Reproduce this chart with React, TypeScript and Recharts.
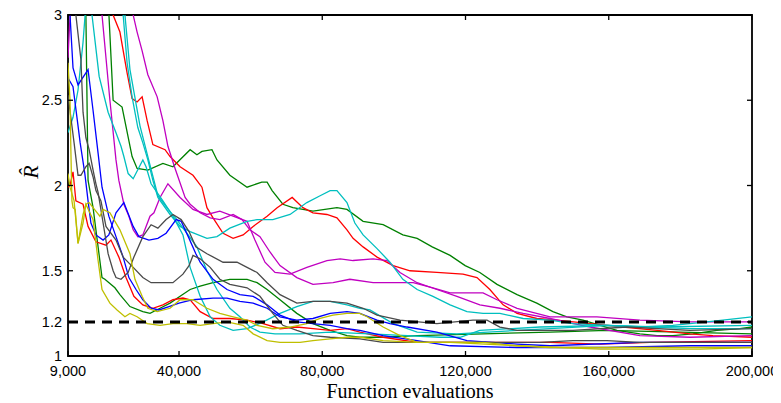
import { LineChart, Line, XAxis, YAxis, ReferenceLine, ReferenceArea } from 'recharts'

type Pt = [number, number]

const xTicks = [9000, 40000, 80000, 120000, 160000, 200000]
const yTicks = [1, 1.2, 1.5, 2, 2.5, 3]
const xDomain: [number, number] = [9000, 200000]
const yDomain: [number, number] = [1, 3]
const threshold = 1.2

// one trace per chain, [evaluations, R-hat]
const green1: Pt[] = [
  [9000, 3.9], [15000, 3.6], [20200, 3.1], [21600, 2.5], [24100, 2.46], [26900, 2.17], [28300, 2.1],
  [31300, 2.09], [35500, 2.13], [38300, 2.11], [43100, 2.21], [45000, 2.18], [46400, 2.2], [49200, 2.21],
  [50600, 2.15], [54200, 2.06], [59000, 1.99], [63100, 2.02], [64600, 2.02], [66000, 1.97], [69000, 1.89],
  [71800, 1.87], [77400, 1.85], [84100, 1.87], [86900, 1.86], [91400, 1.79], [97000, 1.77], [102500, 1.71],
  [106500, 1.69], [110700, 1.64], [115700, 1.59], [119900, 1.53], [124000, 1.49], [128800, 1.42],
  [134400, 1.36], [139900, 1.31], [144400, 1.26], [148300, 1.23], [152800, 1.21], [157600, 1.18],
  [162300, 1.15], [168700, 1.13], [173500, 1.12], [177900, 1.12], [183500, 1.13], [190200, 1.15],
  [196600, 1.16], [200000, 1.17],
]

const green2: Pt[] = [
  [9000, 4.0], [13200, 3.3], [14000, 3.0], [14600, 2.03], [16000, 1.87], [18500, 1.46], [19300, 1.45],
  [22100, 1.4], [23500, 1.36], [26300, 1.29], [29900, 1.26], [31900, 1.25], [34700, 1.28], [37500, 1.31],
  [40300, 1.35], [43100, 1.39], [45900, 1.41], [49500, 1.43], [54200, 1.45], [59000, 1.45], [61800, 1.43],
  [64600, 1.39], [68200, 1.33], [72900, 1.25], [77400, 1.19], [82200, 1.15], [86900, 1.12], [90500, 1.11],
  [97000, 1.11], [106500, 1.12], [124900, 1.13], [143600, 1.14], [159500, 1.15], [179900, 1.14],
  [200000, 1.13],
]

const red1: Pt[] = [
  [9000, 4.5], [20000, 3.6], [21600, 3.0], [23500, 2.9], [25500, 2.66], [26900, 2.51], [28300, 2.49],
  [29700, 2.52], [31100, 2.38], [32700, 2.24], [36100, 2.21], [37500, 2.17], [40300, 2.11], [43900, 2.06],
  [46400, 1.99], [47800, 1.87], [49500, 1.81], [52300, 1.72], [55100, 1.69], [57900, 1.71], [60700, 1.76],
  [64600, 1.82], [67400, 1.87], [71600, 1.93], [74600, 1.87], [77400, 1.84], [81300, 1.83], [84100, 1.81],
  [86900, 1.74], [88600, 1.69], [91400, 1.64], [95300, 1.58], [99800, 1.53], [104500, 1.5], [112000, 1.49],
  [119300, 1.48], [123200, 1.46], [126800, 1.39], [130500, 1.3], [134400, 1.25], [139900, 1.22],
  [145500, 1.21], [154800, 1.19], [164000, 1.17], [173500, 1.15], [182700, 1.13], [189100, 1.12],
  [200000, 1.11],
]

const red2: Pt[] = [
  [9000, 1.99], [9560, 2.0], [10400, 2.08], [11200, 1.91], [13200, 1.89], [14600, 1.76], [16800, 1.67],
  [19600, 1.65], [21000, 1.68], [23200, 1.58], [25200, 1.46], [27400, 1.35], [29900, 1.3], [32700, 1.28],
  [35500, 1.3], [38300, 1.33], [41100, 1.34], [43100, 1.33], [45900, 1.26], [49500, 1.22], [54200, 1.22],
  [59000, 1.21], [63500, 1.19], [68200, 1.16], [72900, 1.17], [77400, 1.16], [82200, 1.15], [86900, 1.16],
  [90500, 1.14], [97000, 1.11], [106500, 1.08], [115700, 1.08], [134400, 1.08], [143600, 1.08],
  [157600, 1.07], [171500, 1.08], [200000, 1.09],
]

const magenta1: Pt[] = [
  [9000, 4.8], [24000, 3.5], [27200, 3.0], [28300, 2.9], [29700, 2.79], [31300, 2.65], [33900, 2.52],
  [35500, 2.38], [36900, 2.23], [38900, 2.1], [41700, 1.93], [43100, 1.89], [45900, 1.84], [48700, 1.81],
  [51400, 1.8], [55100, 1.83], [57600, 1.8], [59800, 1.74], [62600, 1.7], [65400, 1.61], [68200, 1.53],
  [72900, 1.46], [77400, 1.42], [83000, 1.43], [87700, 1.45], [94200, 1.43], [105400, 1.43], [110900, 1.4],
  [115700, 1.37], [124900, 1.37], [128800, 1.33], [134400, 1.28], [143600, 1.23], [156700, 1.23],
  [168700, 1.21], [182700, 1.2], [200000, 1.2],
]

const magenta2: Pt[] = [
  [9000, 2.75], [9560, 2.99], [12000, 3.6], [16000, 3.5], [18500, 3.0], [20700, 2.5], [22400, 2.15],
  [23200, 2.03], [24600, 1.89], [26000, 1.82], [27200, 1.74], [28500, 1.7], [29900, 1.71], [31900, 1.82],
  [33000, 1.84], [34700, 1.93], [36900, 2.01], [40300, 1.93], [43900, 1.86], [47800, 1.83], [51400, 1.85],
  [55100, 1.82], [59000, 1.79], [61200, 1.68], [64000, 1.55], [66800, 1.49], [71000, 1.48], [75700, 1.52],
  [81300, 1.56], [85000, 1.57], [88600, 1.56], [94200, 1.57], [98100, 1.56], [101700, 1.49], [106500, 1.43],
  [112000, 1.39], [117600, 1.35], [124000, 1.3], [129600, 1.28], [136100, 1.25], [143600, 1.22],
  [154800, 1.17], [168700, 1.12], [182700, 1.11], [200000, 1.12],
]

const cyan1: Pt[] = [
  [9000, 4.6], [20000, 3.4], [24400, 3.0], [25500, 2.72], [26900, 2.52], [28500, 2.34], [29900, 2.25],
  [31300, 2.15], [32700, 2.03], [34100, 1.93], [37500, 1.83], [40300, 1.76], [43100, 1.73], [47800, 1.69],
  [50600, 1.7], [54200, 1.75], [59000, 1.79], [61800, 1.8], [66200, 1.8], [71000, 1.83], [75700, 1.9],
  [79400, 1.94], [82200, 1.97], [84100, 1.97], [86900, 1.9], [89100, 1.78], [91400, 1.71], [95300, 1.63],
  [98900, 1.55], [102500, 1.45], [106500, 1.39], [110900, 1.35], [115700, 1.3], [120400, 1.26],
  [124900, 1.25], [129600, 1.25], [136100, 1.22], [143600, 1.21], [150000, 1.19], [159500, 1.18],
  [168700, 1.17], [177900, 1.18], [187400, 1.2], [200000, 1.23],
]

const cyan2: Pt[] = [
  [9000, 2.31], [10400, 2.4], [11800, 2.56], [13200, 2.84], [14500, 3.2], [15700, 3.0], [17700, 2.64],
  [20200, 2.43], [22400, 2.31], [23800, 2.23], [24600, 2.17], [25800, 2.07], [27200, 2.04], [29900, 2.15],
  [30800, 2.11], [32200, 2.01], [35500, 1.91], [38300, 1.82], [41100, 1.71], [43100, 1.52], [45900, 1.35],
  [48700, 1.23], [51400, 1.18], [55100, 1.15], [59000, 1.16], [63500, 1.2], [68200, 1.25], [72900, 1.29],
  [77400, 1.32], [82200, 1.32], [86900, 1.3], [90500, 1.28], [93300, 1.27], [99800, 1.19], [106500, 1.14],
  [117600, 1.13], [134400, 1.15], [143600, 1.16], [159500, 1.18], [173500, 1.17], [200000, 1.18],
]

const cyan3: Pt[] = [
  [9000, 4.2], [20000, 3.5], [24900, 3.0], [26300, 2.68], [29100, 2.35], [31900, 2.12], [34100, 1.94],
  [36600, 1.87], [39400, 1.8], [42200, 1.72], [45000, 1.64], [47800, 1.5], [50600, 1.39], [54200, 1.28],
  [57000, 1.23], [59800, 1.17], [62600, 1.14], [66800, 1.13], [73800, 1.13], [82200, 1.14], [93300, 1.13],
  [112900, 1.11], [118500, 1.11], [124000, 1.15], [140800, 1.17], [159500, 1.18], [182700, 1.16],
  [200000, 1.16],
]

const blue1: Pt[] = [
  [9000, 2.63], [10400, 2.58], [11500, 2.4], [12400, 2.25], [13700, 2.07], [14600, 1.91], [15400, 1.78],
  [16800, 1.71], [18800, 1.68], [20400, 1.71], [22400, 1.84], [24600, 1.9], [27200, 1.76], [28800, 1.7],
  [31600, 1.68], [34100, 1.69], [36400, 1.72], [39200, 1.8], [40600, 1.79], [42800, 1.69], [44700, 1.6],
  [45900, 1.55], [49500, 1.45], [53400, 1.39], [57000, 1.36], [60700, 1.35], [64600, 1.3], [68200, 1.24],
  [72900, 1.2], [77400, 1.19], [82200, 1.18], [86900, 1.16], [90500, 1.15], [97000, 1.12], [106500, 1.09],
  [115700, 1.06], [134400, 1.05], [159500, 1.05], [182700, 1.06], [200000, 1.06],
]

const blue2: Pt[] = [
  [9000, 3.5], [9560, 3.0], [10400, 2.69], [11800, 2.59], [14600, 2.68], [16000, 2.44], [17400, 2.19],
  [18500, 1.99], [20400, 1.82], [22400, 1.7], [24400, 1.58], [26000, 1.46], [28000, 1.39], [29900, 1.33],
  [32200, 1.28], [34400, 1.27], [37200, 1.29], [40000, 1.31], [43900, 1.33], [49500, 1.34], [53400, 1.34],
  [57000, 1.32], [60700, 1.31], [64600, 1.28], [68200, 1.23], [72900, 1.21], [77400, 1.22], [82200, 1.25],
  [86900, 1.26], [90500, 1.25], [95300, 1.21], [98900, 1.19], [103700, 1.17], [112000, 1.14],
  [120400, 1.09], [134400, 1.07], [143600, 1.06], [168700, 1.08], [200000, 1.08],
]

const gray1: Pt[] = [
  [9000, 4.0], [11200, 3.0], [12600, 2.74], [13200, 2.43], [14000, 2.28], [14900, 2.21], [16000, 2.09],
  [16800, 2.01], [17400, 1.96], [18800, 1.78], [20200, 1.6], [21600, 1.5], [22400, 1.46], [23800, 1.45],
  [25800, 1.49], [27400, 1.58], [29900, 1.7], [32200, 1.77], [34100, 1.75], [36400, 1.8], [38300, 1.83],
  [40600, 1.8], [42800, 1.73], [44700, 1.64], [47800, 1.6], [52300, 1.55], [56200, 1.55], [59000, 1.52],
  [61800, 1.49], [64600, 1.43], [68200, 1.36], [72900, 1.31], [77400, 1.32], [82200, 1.32], [86900, 1.31],
  [91400, 1.28], [95300, 1.24], [101700, 1.21], [112000, 1.19], [122100, 1.21], [126000, 1.21],
  [129600, 1.17], [134400, 1.15], [150000, 1.15], [165100, 1.17], [182700, 1.15], [200000, 1.16],
]

const gray2: Pt[] = [
  [9000, 2.53], [10700, 2.25], [11800, 2.06], [12600, 2.06], [14000, 2.11], [14900, 2.13], [16000, 2.05],
  [16800, 1.97], [18200, 1.91], [19600, 1.76], [22400, 1.68], [24400, 1.58], [27200, 1.52], [29900, 1.46],
  [32200, 1.43], [35500, 1.43], [38300, 1.43], [41100, 1.48], [42800, 1.53], [43900, 1.59], [45900, 1.57],
  [48700, 1.52], [51400, 1.45], [54200, 1.42], [59000, 1.4], [62600, 1.35], [66200, 1.25], [69000, 1.18],
  [72900, 1.15], [77400, 1.12], [82200, 1.11], [90500, 1.1], [97000, 1.08], [106500, 1.08], [140800, 1.08],
  [150000, 1.09], [159500, 1.09], [168700, 1.08], [200000, 1.08],
]

const olive1: Pt[] = [
  [9000, 2.72], [9560, 2.5], [9800, 2.21], [10100, 1.91], [10400, 1.87], [11000, 1.86], [11800, 1.66],
  [13200, 1.83], [14000, 1.89], [14900, 1.9], [16000, 1.87], [17900, 1.82], [18800, 1.86], [20700, 1.84],
  [23500, 1.74], [26300, 1.6], [27700, 1.45], [29700, 1.35], [31300, 1.28], [33900, 1.26], [37500, 1.28],
  [40300, 1.33], [43900, 1.33], [47800, 1.28], [51400, 1.25], [55100, 1.23], [59000, 1.21], [61800, 1.18],
  [66200, 1.16], [71000, 1.17], [75700, 1.19], [79400, 1.22], [83000, 1.24], [86900, 1.25], [90500, 1.25],
  [92500, 1.23], [97000, 1.17], [101700, 1.12], [106500, 1.08], [115700, 1.08], [134400, 1.06],
  [143600, 1.05], [164000, 1.05], [200000, 1.05],
]

const olive2: Pt[] = [
  [9000, 2.07], [9560, 1.99], [10700, 1.91], [11800, 1.66], [13200, 1.78], [14000, 1.89], [15100, 1.84],
  [16000, 1.8], [17400, 1.56], [18500, 1.39], [20700, 1.31], [22700, 1.27], [24900, 1.23], [26300, 1.25],
  [28300, 1.23], [31100, 1.19], [34700, 1.18], [38300, 1.19], [42200, 1.19], [45900, 1.18], [49500, 1.19],
  [53400, 1.2], [57900, 1.18], [60700, 1.13], [64600, 1.09], [68200, 1.08], [73800, 1.08], [77400, 1.09],
  [82200, 1.1], [86900, 1.11], [90500, 1.11], [97000, 1.09], [106500, 1.08], [124900, 1.08],
  [134400, 1.06], [157600, 1.04], [168700, 1.04], [185500, 1.04], [200000, 1.05],
]

const traces = [
  { id: 'green1', color: '#008000', pts: green1 },
  { id: 'green2', color: '#008000', pts: green2 },
  { id: 'red1', color: '#ff0000', pts: red1 },
  { id: 'red2', color: '#ff0000', pts: red2 },
  { id: 'magenta1', color: '#c000c0', pts: magenta1 },
  { id: 'magenta2', color: '#c000c0', pts: magenta2 },
  { id: 'cyan1', color: '#00bfbf', pts: cyan1 },
  { id: 'cyan2', color: '#00bfbf', pts: cyan2 },
  { id: 'cyan3', color: '#00bfbf', pts: cyan3 },
  { id: 'blue1', color: '#0000ff', pts: blue1 },
  { id: 'blue2', color: '#0000ff', pts: blue2 },
  { id: 'gray1', color: '#4a4a4a', pts: gray1 },
  { id: 'gray2', color: '#4a4a4a', pts: gray2 },
  { id: 'olive1', color: '#bfbf00', pts: olive1 },
  { id: 'olive2', color: '#bfbf00', pts: olive2 },
]

const W = 773
const H = 395
const PLOT = { left: 60, right: 744, top: 7, bottom: 348 }
const TICK_PX = 5
const SANS = '"Liberation Sans", Arial, sans-serif'
const SERIF = '"Liberation Serif", "Times New Roman", serif'

// tick length expressed in axis units so the marks sit inside the frame
const tickDx = (TICK_PX * (xDomain[1] - xDomain[0])) / (PLOT.right - PLOT.left)
const tickDy = (TICK_PX * (yDomain[1] - yDomain[0])) / (PLOT.bottom - PLOT.top)

const fmt = (v: number) => v.toLocaleString('en-US')

function BottomTick(props: any) {
  const { x, payload } = props
  return (
    <text x={x} y={PLOT.bottom + 20} textAnchor="middle" fontFamily={SANS} fontSize={14.5} fill="#000">
      {fmt(payload.value)}
    </text>
  )
}

function LeftTick(props: any) {
  const { y, payload } = props
  return (
    <text x={PLOT.left - 6} y={y + 5} textAnchor="end" fontFamily={SANS} fontSize={14.5} fill="#000">
      {payload.value}
    </text>
  )
}

function RhatLabel() {
  const cx = 22
  const cy = 164
  return (
    <text
      x={cx}
      y={cy}
      transform={`rotate(-90 ${cx} ${cy})`}
      textAnchor="middle"
      dominantBaseline="central"
      fontFamily={SERIF}
      fontStyle="italic"
      fontSize={22}
      fill="#000"
    >
      {'R\u0302'}
    </text>
  )
}

export default function App() {
  const tickStroke = { stroke: '#000', strokeWidth: 1.3, ifOverflow: 'visible' as const }
  return (
    <div style={{ width: W, height: H }}>
      <LineChart width={W} height={H} margin={{ top: PLOT.top, right: W - PLOT.right, bottom: 0, left: 0 }}>
        <XAxis
          dataKey="x"
          type="number"
          domain={xDomain}
          ticks={xTicks}
          interval={0}
          allowDataOverflow
          height={H - PLOT.bottom}
          axisLine={false}
          tickLine={false}
          tick={(p: any) => <BottomTick {...p} />}
          label={{
            value: 'Function evaluations',
            position: 'insideBottom',
            offset: 5,
            style: { fontFamily: SERIF, fontSize: 20, fill: '#000' },
          }}
        />
        <YAxis
          type="number"
          domain={yDomain}
          ticks={yTicks}
          interval={0}
          allowDataOverflow
          width={PLOT.left}
          axisLine={false}
          tickLine={false}
          tick={(p: any) => <LeftTick {...p} />}
          label={<RhatLabel />}
        />
        {traces.map((t) => (
          <Line
            key={t.id}
            data={t.pts.map(([x, y]) => ({ x, y }))}
            dataKey="y"
            stroke={t.color}
            strokeWidth={1.3}
            dot={false}
            activeDot={false}
            type="linear"
            isAnimationActive={false}
          />
        ))}
        <ReferenceLine y={threshold} stroke="#000" strokeWidth={3} strokeDasharray="10 7" />
        <ReferenceArea
          x1={xDomain[0]}
          x2={xDomain[1]}
          y1={yDomain[0]}
          y2={yDomain[1]}
          fill="none"
          fillOpacity={0}
          stroke="#000"
          strokeWidth={1.8}
        />
        {xTicks.map((v) => (
          <ReferenceLine key={`xb${v}`} {...tickStroke} segment={[{ x: v, y: yDomain[0] }, { x: v, y: yDomain[0] + tickDy }]} />
        ))}
        {xTicks.map((v) => (
          <ReferenceLine key={`xt${v}`} {...tickStroke} segment={[{ x: v, y: yDomain[1] }, { x: v, y: yDomain[1] - tickDy }]} />
        ))}
        {yTicks.map((v) => (
          <ReferenceLine key={`yl${v}`} {...tickStroke} segment={[{ x: xDomain[0], y: v }, { x: xDomain[0] + tickDx, y: v }]} />
        ))}
        {yTicks.map((v) => (
          <ReferenceLine key={`yr${v}`} {...tickStroke} segment={[{ x: xDomain[1], y: v }, { x: xDomain[1] - tickDx, y: v }]} />
        ))}
      </LineChart>
    </div>
  )
}
